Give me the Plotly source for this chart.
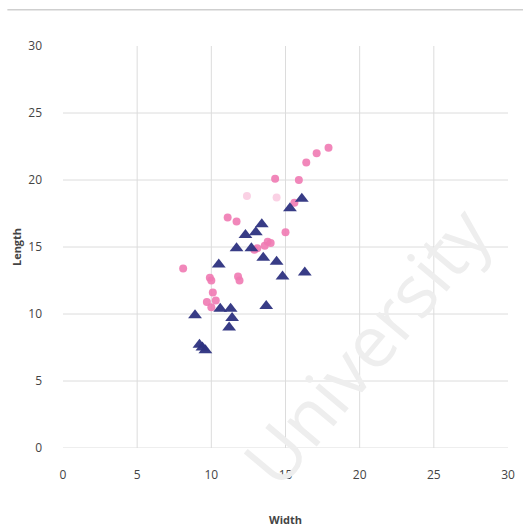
import plotly.graph_objects as go

# Pink circle series: width / length
pink_width = [8.1, 9.7, 9.9, 10.0, 10.0, 10.1, 10.3, 11.1, 11.7, 11.8, 11.9, 12.4, 12.9,
              13.1, 13.6, 13.8, 14.0, 14.3, 14.4, 15.0, 15.6, 15.9, 16.4, 17.1, 17.9]
pink_length = [13.4, 10.9, 12.7, 12.5, 10.5, 11.6, 11.0, 17.2, 16.9, 12.8, 12.5, 18.8, 14.8,
               14.9, 15.1, 15.4, 15.3, 20.1, 18.7, 16.1, 18.3, 20.0, 21.3, 22.0, 22.4]

# Navy triangle series: width / length
navy_width = [8.9, 9.2, 9.4, 9.6, 10.5, 10.6, 11.2, 11.3, 11.4, 11.7, 12.3, 12.7,
              13.0, 13.4, 13.5, 13.7, 14.4, 14.8, 15.3, 16.1, 16.3]
navy_length = [9.9, 7.7, 7.5, 7.3, 13.7, 10.4, 9.0, 10.4, 9.7, 14.9, 15.9, 14.9,
               16.1, 16.7, 14.2, 10.6, 13.9, 12.8, 17.9, 18.6, 13.1]

tick_vals = [0, 5, 10, 15, 20, 25, 30]
x_grid = [5, 10, 15, 20, 25]
y_grid = [0, 5, 10, 15, 20, 25]

PINK = "#f07ab2"
NAVY = "#2d3180"
GRID = "#dcdcdc"
TEXT = "#444444"
FONT = "Open Sans, Liberation Sans, sans-serif"

pink_opacity = [0.35 if (w, l) in [(12.4, 18.8), (14.4, 18.7)] else 0.9
                for w, l in zip(pink_width, pink_length)]

fig = go.Figure()
fig.add_trace(go.Scatter(
    x=pink_width, y=pink_length, mode="markers", name="pink",
    marker=dict(symbol="circle", size=8, color=PINK, opacity=pink_opacity,
                line=dict(width=0)),
))
fig.add_trace(go.Scatter(
    x=navy_width, y=navy_length, mode="markers", name="navy",
    marker=dict(symbol="triangle-up", size=12, color=NAVY, opacity=0.95,
                line=dict(width=0)),
))

shapes = []
for v in x_grid:
    shapes.append(dict(type="line", xref="x", yref="y", x0=v, x1=v, y0=0, y1=30,
                       line=dict(color=GRID, width=1), layer="below"))
for v in y_grid:
    shapes.append(dict(type="line", xref="x", yref="y", x0=0, x1=30, y0=v, y1=v,
                       line=dict(color=GRID, width=1), layer="below"))
# thin rule across the top of the figure
shapes.append(dict(type="line", xref="paper", yref="paper", x0=-0.125, x1=1.05,
                   y0=1.09, y1=1.09, line=dict(color="#cfcfcf", width=1.5)))

fig.update_layout(
    width=523, height=531,
    margin=dict(l=63, r=15, t=46, b=83),
    paper_bgcolor="white", plot_bgcolor="white",
    showlegend=False,
    shapes=shapes,
    font=dict(family=FONT, color=TEXT, size=11),
    annotations=[dict(
        text="University", xref="paper", yref="paper", x=0.68, y=0.255,
        xanchor="center", yanchor="middle",
        showarrow=False, textangle=-50,
        font=dict(family=FONT, size=72, color="#eeeeee"),
    )],
)
fig.update_xaxes(
    range=[0, 30], tickvals=tick_vals, showgrid=False, zeroline=False,
    showline=False, ticks="", ticklabelstandoff=18, automargin=False,
    tickfont=dict(size=12, color=TEXT),
    title=dict(text="<b>Width</b>", font=dict(size=11, color=TEXT), standoff=34),
)
fig.update_yaxes(
    range=[0, 30], tickvals=tick_vals, showgrid=False, zeroline=False,
    showline=False, ticks="", ticklabelstandoff=20, automargin=False,
    tickfont=dict(size=12, color=TEXT),
    title=dict(text="<b>Length</b>", font=dict(size=11, color=TEXT), standoff=4),
)

fig.write_html("out.html")
